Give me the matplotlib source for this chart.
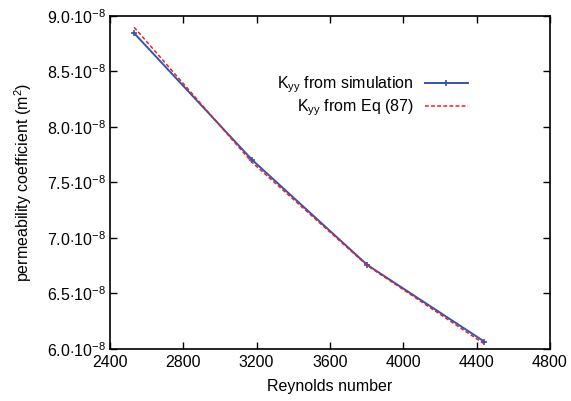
import matplotlib
matplotlib.use('Agg')
import matplotlib.pyplot as plt
from matplotlib.ticker import FuncFormatter, MultipleLocator

plt.rcParams['font.family'] = ['Liberation Sans', 'DejaVu Sans']
plt.rcParams['mathtext.fontset'] = 'custom'
plt.rcParams['mathtext.rm'] = 'Liberation Sans'
plt.rcParams['mathtext.it'] = 'Liberation Sans'

# Reynolds numbers and permeability (m^2)
reynolds = [2532, 3176, 3804, 4443]
k_sim = [8.845e-8, 7.703e-8, 6.757e-8, 6.066e-8]
k_eq = [8.898e-8, 7.680e-8, 6.752e-8, 6.045e-8]

fs = 11.5

fig = plt.figure(figsize=(5.71, 4.01), dpi=100)
ax = fig.add_axes([0.1926, 0.1297, 0.7704, 0.8304])

ax.plot(reynolds, k_sim, color='#3355b0', lw=1.4, marker='+', ms=5, mew=1.2,
        label=r'K$_{\rm yy}$ from simulation')
ax.plot(reynolds, k_eq, color='#ee1c25', lw=1.1, ls=(0, (2.5, 1.5)),
        label=r'K$_{\rm yy}$ from Eq (87)')

ax.set_xlim(2400, 4800)
ax.set_ylim(6.0e-8, 9.0e-8)
ax.xaxis.set_major_locator(MultipleLocator(400))
ax.yaxis.set_major_locator(MultipleLocator(0.5e-8))


def fmt_y(v, pos):
    return r'%.1f$\cdot$10$^{-8}$' % (v / 1e-8)


ax.yaxis.set_major_formatter(FuncFormatter(fmt_y))
ax.tick_params(direction='in', top=True, right=True, length=5, width=1,
               labelsize=fs, pad=3)
ax.tick_params(axis='x', pad=4)
for s in ax.spines.values():
    s.set_linewidth(1.2)

ax.set_xlabel('Reynolds number', fontsize=fs, labelpad=7)
ax.set_ylabel(r'permeability coefficient (m$^2$)', fontsize=fs, labelpad=9)

ax.legend(loc='upper right', bbox_to_anchor=(0.846, 0.868), frameon=False,
          markerfirst=False, fontsize=fs, handlelength=2.7, labelspacing=0.15,
          handletextpad=0.7, borderpad=0.4)

fig.savefig('out.png', dpi=100)
